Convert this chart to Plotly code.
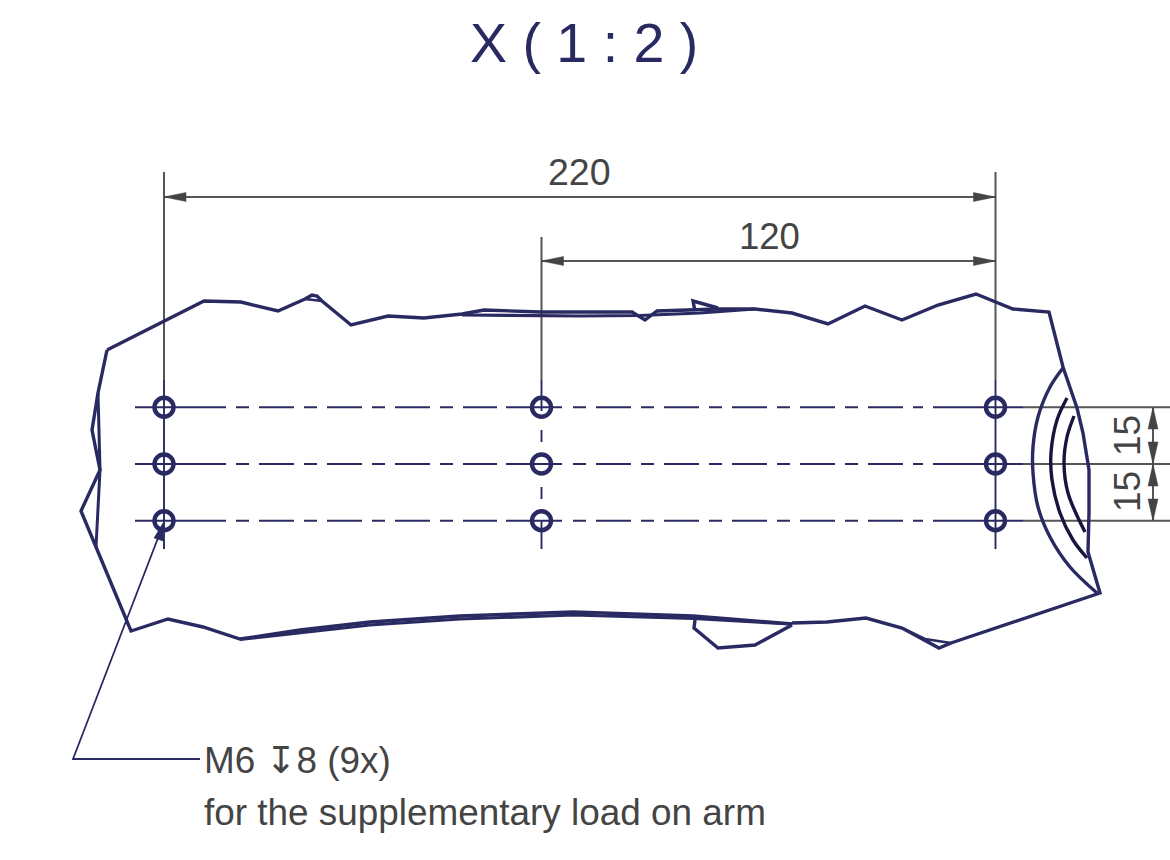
import plotly.graph_objects as go

NAVY = "#2a2a62"
GREY = "#555555"
TEXT = "#444444"
DARK = "#15153f"

OUTLINE_X = [107, 204, 241, 278, 305, 312, 317, 322, 351, 388, 424, 462, 484, 541, 632, 645, 657, 718, 755, 792, 828, 865, 902, 938, 976, 1013, 1049, 1063, 1077, 1083, 1089, 1089, 1088, 1100, 951, 939, 902, 866, 827, 792]
OUTLINE_Y = [350, 301, 302, 311, 299, 295, 296, 301, 325, 316, 318, 314, 310, 312, 312, 320, 311, 309, 309, 313, 324, 306, 320, 305, 294, 309, 312, 367, 408, 433, 470, 513, 552, 593, 643, 648, 628, 618, 622, 623]
BOTTOM_X = [792, 693, 573, 460, 370, 300, 240, 203, 168, 131, 96, 81, 100, 92, 98, 107]
BOTTOM_Y = [624, 616, 612, 616, 622, 630, 639, 627, 619, 631, 547, 511, 470, 430, 393, 350]
BOTTOM2_X = [792, 693, 573, 460, 370, 300, 240]
BOTTOM2_Y = [624, 618.5, 615, 619, 625, 632.5, 639.5]
TOP2_X = [462, 541, 580, 640, 700, 755]
TOP2_Y = [315, 315.5, 316, 315.5, 313, 309]
LEFT2_X = [98, 100, 96]
LEFT2_Y = [393, 470, 547]
TOPBUMP_X = [305, 322]
TOPBUMP_Y = [299, 301]
TRI_X = [695, 693, 718]
TRI_Y = [311, 301, 308]
BUMP_X = [695, 694, 718, 755, 792]
BUMP_Y = [620, 628, 648, 645, 625]
NOTCH_X = [902, 925, 951]
NOTCH_Y = [628, 639, 643]

ARC1_X = [1063, 1050, 1038, 1033, 1033, 1038, 1050, 1070, 1097]
ARC1_Y = [368, 387, 417, 447, 473, 507, 537, 567, 593]
ARC2_X = [1067, 1057, 1051, 1052, 1060, 1073, 1087]
ARC2_Y = [398, 420, 453, 480, 513, 540, 558]
ARC3_X = [1074, 1067, 1064, 1068, 1085]
ARC3_Y = [416, 437, 463, 493, 532]

HOLE_X = [164, 541.5, 995.5]
HOLE_Y = [407.3, 464, 520.7]

DASH_A = [236, 497]
DASH_B = [573, 923]
SOLID_SEGS = [(135, 226), (506, 562), (933, 1023)]
GREY_RIGHT = [1023, 1170]

EXT_TOPS = [172, 237, 172]
EXT_END = 380
V_NAVY = [(164, 380, 549), (541.5, 380, 411), (541.5, 430, 442), (541.5, 487, 499), (541.5, 520, 549), (995.5, 380, 549)]

DIM_220_X = [164, 995.5]
DIM_220_Y = [197, 197]
DIM_120_X = [541.5, 995.5]
DIM_120_Y = [261, 261]
DIM_V_X = [1153, 1153]
DIM_V_Y = [407.3, 520.7]

ARROWS_X = [[164, 186, 186], [995.5, 973.5, 973.5], [541.5, 563.5, 563.5], [995.5, 973.5, 973.5],
            [1153, 1148, 1158], [1153, 1148, 1158], [1153, 1148, 1158], [1153, 1148, 1158], [163, 154, 163]]
ARROWS_Y = [[197, 192.5, 201.5], [197, 192.5, 201.5], [261, 256.5, 265.5], [261, 256.5, 265.5],
            [407.3, 429, 429], [464, 442, 442], [464, 486, 486], [520.7, 499, 499], [523, 538, 541]]

LEADER_X = [163, 73, 200]
LEADER_Y = [525, 759, 759]

TITLE = "X ( 1 : 2 )"
LABEL_220 = "220"
LABEL_120 = "120"
LABEL_15 = "15"
NOTE_1 = "M6 ↧8 (9x)"
NOTE_2 = "for the supplementary load on arm"

fig = go.Figure()


def line(x, y, color=NAVY, width=3.4, dash=None, shape="linear"):
    fig.add_trace(go.Scatter(x=x, y=y, mode="lines", hoverinfo="skip",
                             line=dict(color=color, width=width, dash=dash, shape=shape)))


# extension lines and centre lines
for hx, top in zip(HOLE_X, EXT_TOPS):
    line([hx, hx], [top, EXT_END], GREY, 2)
for vx, a, b in V_NAVY:
    line([vx, vx], [a, b], NAVY, 1.9)

# horizontal centre lines
for hy in HOLE_Y:
    for a, b in SOLID_SEGS:
        line([a, b], [hy, hy], NAVY, 1.9)
    line(DASH_A, [hy, hy], NAVY, 1.9, dash="13px,10px,35px,10px")
    line(DASH_B, [hy, hy], NAVY, 1.9, dash="13px,10px,35px,10px")
    line(GREY_RIGHT, [hy, hy], GREY, 2)

# part outline
line(OUTLINE_X, OUTLINE_Y)
line(BOTTOM_X, BOTTOM_Y)
line(BOTTOM2_X, BOTTOM2_Y, width=3.2)
line(TOP2_X, TOP2_Y, width=3.2)
line(LEFT2_X, LEFT2_Y, width=3)
line(TOPBUMP_X, TOPBUMP_Y, width=2.6)
line(TRI_X, TRI_Y)
line(BUMP_X, BUMP_Y)
line(NOTCH_X, NOTCH_Y, width=2.6)
line(ARC1_X, ARC1_Y, shape="spline")
line(ARC2_X, ARC2_Y, DARK, 3.4, shape="spline")
line(ARC3_X, ARC3_Y, DARK, 3.4, shape="spline")

# holes
fig.add_trace(go.Scatter(
    x=[hx for hx in HOLE_X for _ in HOLE_Y],
    y=[hy for _ in HOLE_X for hy in HOLE_Y],
    mode="markers", hoverinfo="skip",
    marker=dict(symbol="circle-open", size=19, color=NAVY, line=dict(width=4.4, color=NAVY)),
))

# dimensions
line(DIM_220_X, DIM_220_Y, GREY, 2)
line(DIM_120_X, DIM_120_Y, GREY, 2)
line(DIM_V_X, DIM_V_Y, GREY, 2)
for ax, ay in zip(ARROWS_X[:8], ARROWS_Y[:8]):
    fig.add_trace(go.Scatter(x=ax + ax[:1], y=ay + ay[:1], mode="lines", fill="toself", hoverinfo="skip",
                             fillcolor="#444444", line=dict(color="#444444", width=0.5)))

# leader
line(LEADER_X, LEADER_Y, NAVY, 1.8)
fig.add_trace(go.Scatter(x=ARROWS_X[8] + ARROWS_X[8][:1], y=ARROWS_Y[8] + ARROWS_Y[8][:1], mode="lines",
                         fill="toself", hoverinfo="skip", fillcolor=NAVY, line=dict(color=NAVY, width=0.5)))

FONT = "Liberation Sans, DejaVu Sans, sans-serif"


def text(x, y, s, size, color=TEXT, anchor="center", angle=0):
    fig.add_annotation(x=x, y=y, text=s, showarrow=False, xanchor=anchor, yanchor="middle",
                       textangle=angle, font=dict(family=FONT, size=size, color=color))


text(583.5, 43, TITLE, 55.5, NAVY)
text(579, 172, LABEL_220, 37.5)
text(769.5, 236, LABEL_120, 36.5)
text(1127, 436, LABEL_15, 37, angle=-90)
text(1127, 492, LABEL_15, 37, angle=-90)
text(202, 760, NOTE_1, 36.9, anchor="left")
text(202, 812, NOTE_2, 36.9, anchor="left")

fig.update_layout(
    width=1170, height=860, margin=dict(l=0, r=0, t=0, b=0),
    paper_bgcolor="white", plot_bgcolor="white", showlegend=False,
    xaxis=dict(range=[0, 1170], visible=False, fixedrange=True),
    yaxis=dict(range=[860, 0], visible=False, fixedrange=True),
)
fig.write_html("out.html", post_script="document.body.style.margin='0';", config={"displayModeBar": False})
